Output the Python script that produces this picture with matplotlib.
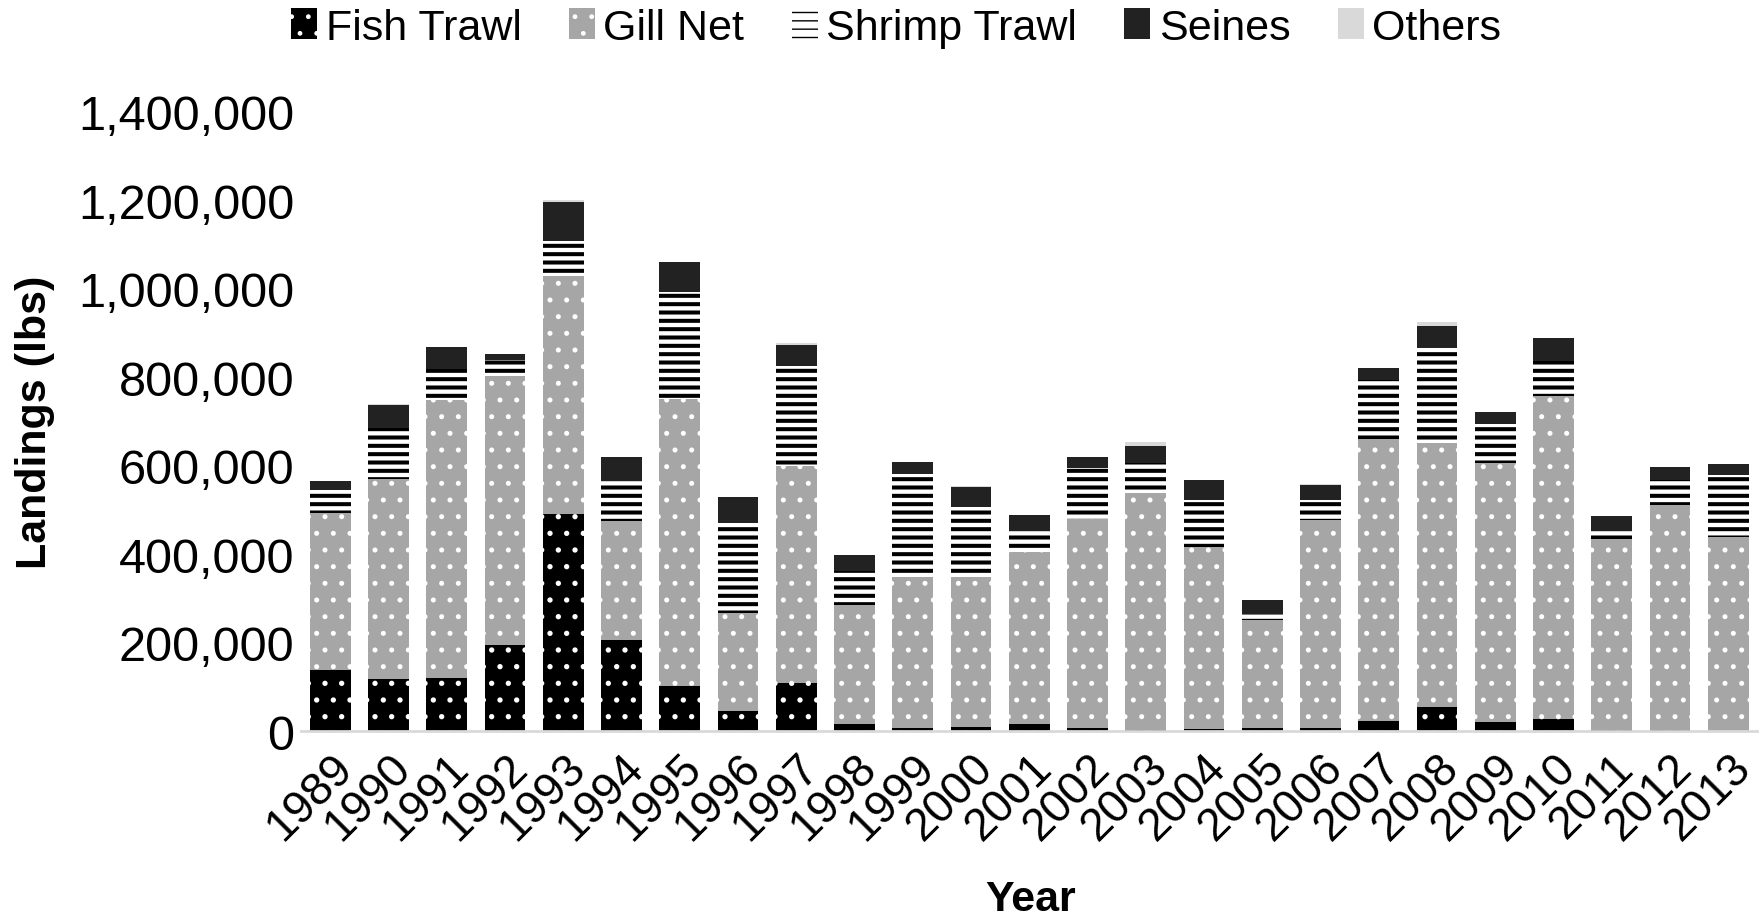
import numpy as np
import matplotlib.pyplot as plt
from matplotlib.ticker import StrMethodFormatter

plt.rcParams['font.family'] = ['Liberation Sans', 'DejaVu Sans']

years = [str(y) for y in range(1989, 2014)]

# landings in thousand lbs
fish_trawl = [137, 117, 120, 194, 491, 205, 102, 46, 109, 15, 6, 10, 15, 8, 3, 4, 6, 8, 22, 54, 20, 28, 2, 3, 0]
gill_net = [355, 453, 629, 609, 538, 269, 649, 221, 489, 269, 342, 338, 390, 472, 535, 412, 246, 469, 638, 597, 586, 730, 431, 508, 438]
shrimp_trawl = [53, 117, 70, 36, 79, 92, 241, 204, 228, 78, 233, 158, 46, 115, 68, 107, 13, 46, 134, 216, 87, 79, 20, 57, 141]
seines = [19, 50, 48, 14, 88, 53, 67, 58, 47, 36, 27, 45, 38, 25, 39, 45, 32, 33, 26, 48, 29, 52, 34, 28, 24]
others = [0, 3, 0, 0, 3, 0, 0, 0, 3, 0, 0, 3, 0, 0, 9, 0, 0, 2, 0, 9, 0, 0, 0, 0, 0]

series = [
    ("Fish Trawl", fish_trawl, dict(color="black", edgecolor="white", hatch=".")),
    ("Gill Net", gill_net, dict(color="#a6a6a6", edgecolor="white", hatch=".")),
    ("Shrimp Trawl", shrimp_trawl, dict(color="white", edgecolor="black", hatch="--")),
    ("Seines", seines, dict(color="#222222", edgecolor="#222222")),
    ("Others", others, dict(color="#d9d9d9", edgecolor="#d9d9d9")),
]
hatch_lw = {"Fish Trawl": 1.4, "Gill Net": 1.2, "Shrimp Trawl": 2.9, "Seines": 0.5, "Others": 0.5}

fig = plt.figure(figsize=(17.61, 9.2), dpi=100)
ax = fig.add_axes([0.171, 0.2043, 0.827, 0.6734])

x = np.arange(len(years))
bottom = np.zeros(len(years))
for name, vals, style in series:
    v = np.array(vals) * 1000.0
    with plt.rc_context({"hatch.linewidth": hatch_lw[name]}):
        bars = ax.bar(x, v, 0.7, bottom=bottom, label=name, linewidth=0, **style)
    for p in bars:
        if hasattr(p, "set_hatch_linewidth"):
            p.set_hatch_linewidth(hatch_lw[name])
    bottom += v

ax.set_xlim(-0.5, len(years) - 0.5)
ax.set_ylim(0, 1400000)
ax.set_yticks(np.arange(0, 1400001, 200000))
ax.yaxis.set_major_formatter(StrMethodFormatter("{x:,.0f}"))
ax.set_xticks(x)
ax.set_xticklabels(years, rotation=45, ha="right", rotation_mode="anchor")
ax.tick_params(axis="x", length=0, labelsize=33, pad=10)
ax.tick_params(axis="y", length=0, labelsize=35, pad=5)

for s in ["top", "right", "left"]:
    ax.spines[s].set_visible(False)
ax.spines["bottom"].set_color("#d9d9d9")
ax.spines["bottom"].set_linewidth(2)

ax.set_ylabel("Landings (lbs)", fontsize=31, fontweight="bold")
ax.yaxis.set_label_coords(-0.183, 0.5)
ax.yaxis.label.set_va("center")
ax.set_xlabel("Year", fontsize=31, fontweight="bold")
ax.xaxis.set_label_coords(0.501, -0.271)
ax.xaxis.label.set_va("center")

fig.legend(loc="center", bbox_to_anchor=(0.509, 0.969), ncol=5, frameon=False,
           fontsize=31, handlelength=0.6, handleheight=0.7, handletextpad=0.2,
           columnspacing=1.1)

fig.savefig("out.png", dpi=100)
